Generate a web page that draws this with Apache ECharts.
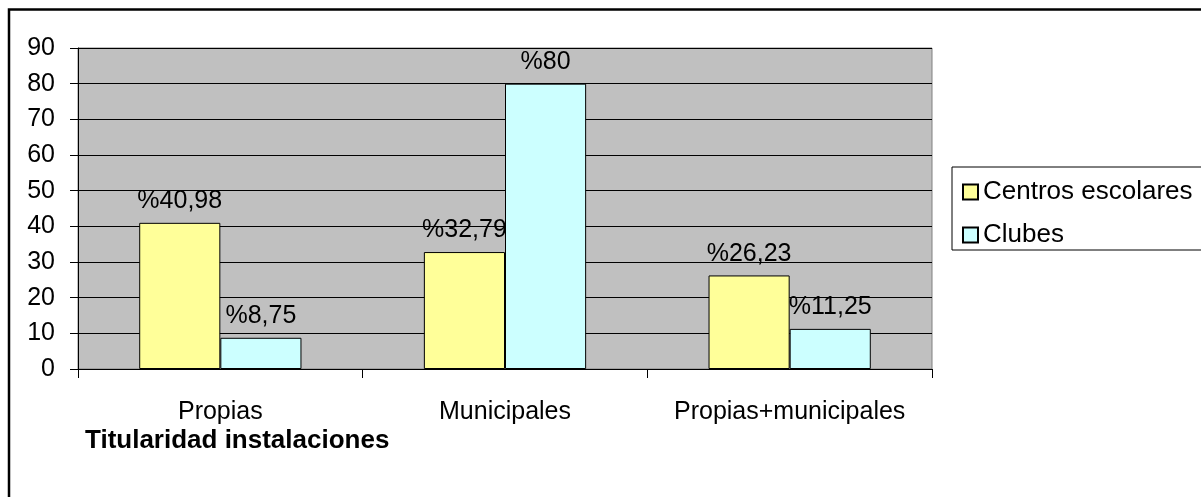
<!DOCTYPE html>
<html>
<head>
<meta charset="utf-8">
<script src="https://cdn.jsdelivr.net/npm/echarts@6/dist/echarts.min.js"></script>
<style>
html,body{margin:0;padding:0;background:#fff;}
#c{width:1201px;height:497px;}
</style>
</head>
<body>
<div id="c"></div>
<script>
const categories = ['Propias', 'Municipales', 'Propias+municipales'];
const centrosEscolares = [40.98, 32.79, 26.23];
const clubes = [8.75, 80, 11.25];
const seriesNames = ['Centros escolares', 'Clubes'];
const axisTitle = 'Titularidad instalaciones';
const yMin = 0, yMax = 90, yStep = 10;

const FONT = '"Liberation Sans", Arial, sans-serif';
const fmt = p => '%' + String(p.value).replace('.', ',');

const chart = echarts.init(document.getElementById('c'), null, {renderer: 'canvas'});
const labelCfg = {
  show: true, position: 'top', distance: 9,
  formatter: fmt, color: '#000', fontSize: 25, fontFamily: FONT
};
chart.setOption({
  backgroundColor: '#fff',
  animation: false,
  title: {
    text: axisTitle, left: 80, top: 423,
    textStyle: {fontSize: 26, fontWeight: 'bold', color: '#000', fontFamily: FONT}
  },
  legend: {
    data: seriesNames,
    orient: 'vertical',
    left: 952, top: 167,
    padding: [12, 30, 2, 10],
    itemGap: 17,
    itemWidth: 15, itemHeight: 15,
    icon: 'rect',
    borderColor: '#000', borderWidth: 1,
    textStyle: {fontSize: 26, color: '#000', fontFamily: FONT, lineHeight: 26}
  },
  grid: {
    left: 78, top: 48, right: 269, bottom: 128,
    show: true, backgroundColor: '#C0C0C0', borderColor: '#808080', borderWidth: 1
  },
  xAxis: {
    type: 'category', data: categories,
    axisLine: {lineStyle: {color: '#000', width: 1}},
    axisTick: {show: true, length: 9, lineStyle: {color: '#000'}},
    axisLabel: {color: '#000', fontSize: 25, fontFamily: FONT, margin: 31, interval: 0, hideOverlap: false}
  },
  yAxis: {
    type: 'value', min: yMin, max: yMax, interval: yStep,
    axisLine: {show: true, lineStyle: {color: '#000', width: 1}},
    axisTick: {show: true, length: 8, lineStyle: {color: '#000'}},
    splitLine: {show: true, lineStyle: {color: '#000', width: 1}},
    axisLabel: {color: '#000', fontSize: 25, fontFamily: FONT, margin: 23}
  },
  graphic: [{
    type: 'rect', silent: true, z: 100,
    shape: {x: 9, y: 9.5, width: 1400, height: 700},
    style: {fill: 'none', stroke: '#000', lineWidth: 2.5}
  }],
  series: [
    {
      name: seriesNames[0], type: 'bar', data: centrosEscolares,
      barGap: '0%', barCategoryGap: '43%',
      itemStyle: {color: '#FFFF99', borderColor: '#000', borderWidth: 1},
      label: labelCfg
    },
    {
      name: seriesNames[1], type: 'bar', data: clubes,
      itemStyle: {color: '#CCFFFF', borderColor: '#000', borderWidth: 1},
      label: labelCfg
    }
  ]
});
</script>
</body>
</html>
